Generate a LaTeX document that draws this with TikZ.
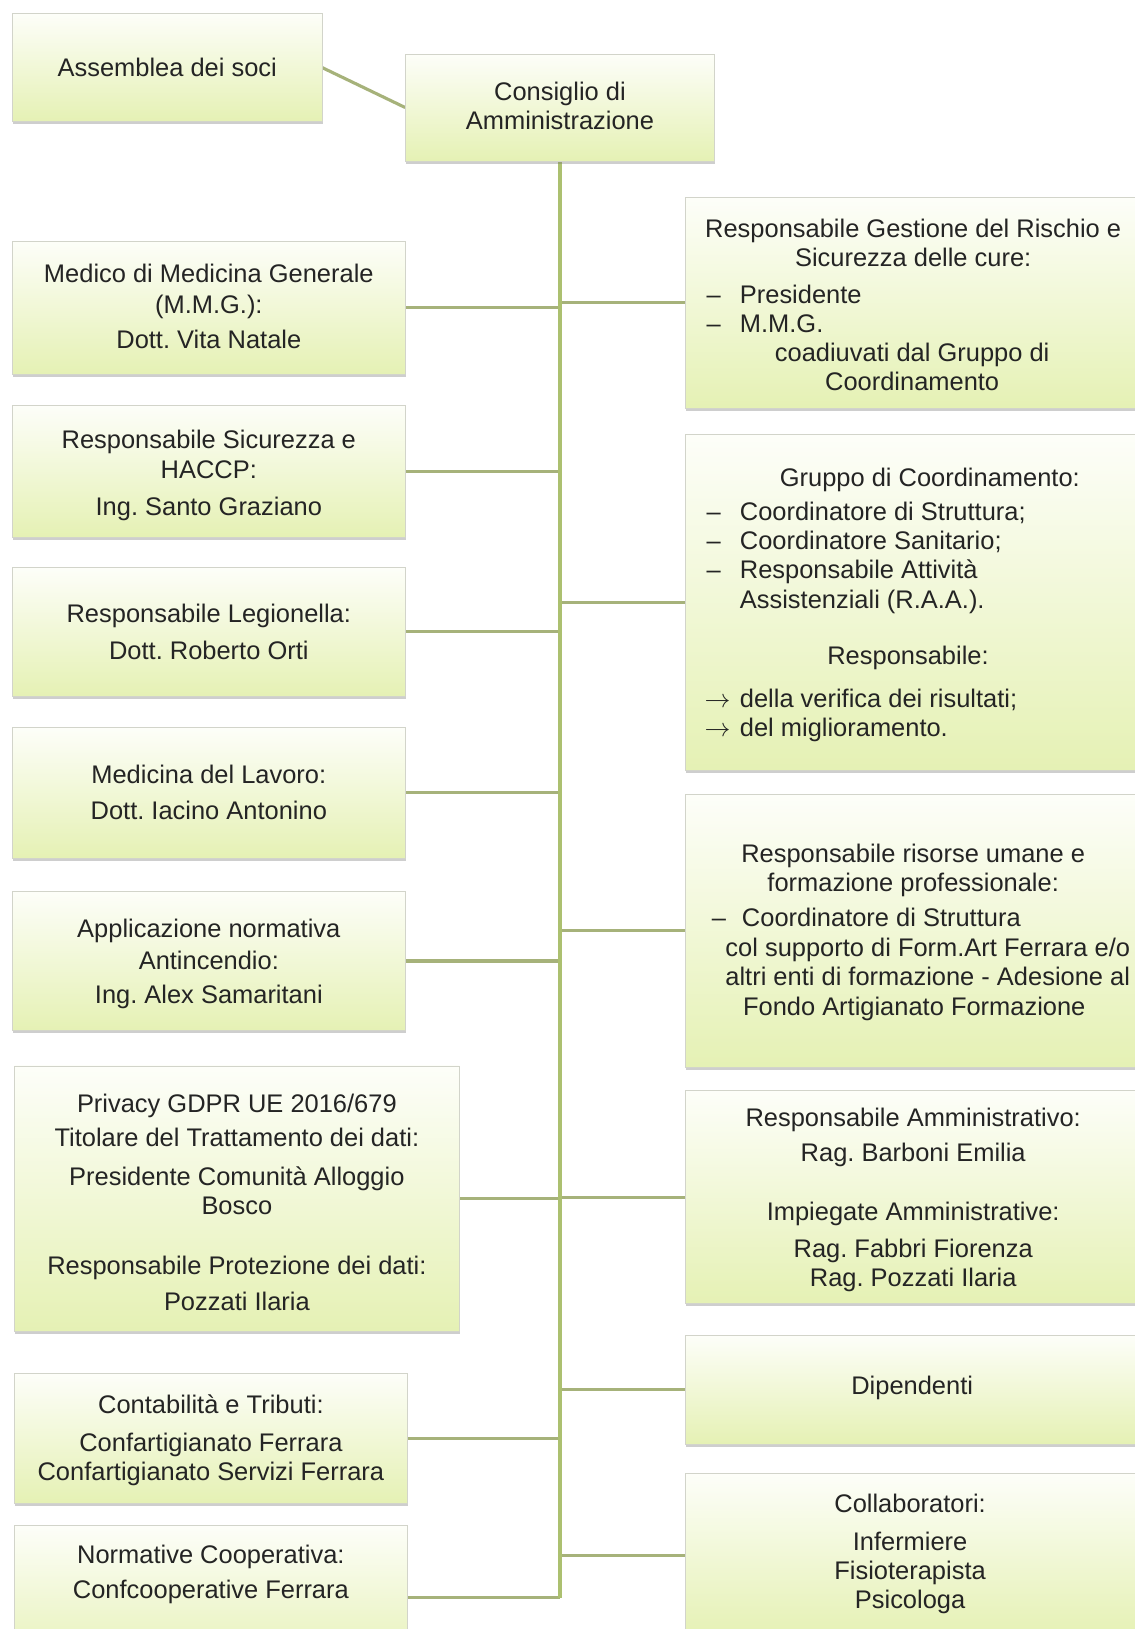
\documentclass[tikz,border=0pt]{standalone}
\usepackage{fontspec}
\setmainfont{Liberation Sans}
\usetikzlibrary{shadows,backgrounds}
\definecolor{trunkcol}{RGB}{172,192,112}
\definecolor{conncol}{RGB}{166,178,122}
\definecolor{btop}{RGB}{253,254,249}
\definecolor{bbot}{RGB}{229,241,180}
\definecolor{bdraw}{RGB}{210,212,202}
\definecolor{txtcol}{RGB}{36,36,36}
\frenchspacing
\begin{document}
\begin{tikzpicture}[x=1pt,y=-1pt,
  box/.style={anchor=north west, inner sep=0pt, outer sep=0pt, draw=bdraw, line width=0.8pt,
    top color=btop, middle color=btop!60!bbot, bottom color=bbot,
    drop shadow={shadow xshift=0.6pt, shadow yshift=-2.5pt, opacity=0.35, fill=black!55}},
  conn/.style={draw=conncol, line width=3pt},
  trunk/.style={draw=trunkcol, line width=3.5pt},
  tc/.style={anchor=base, inner sep=0pt, text=txtcol, font=\fontsize{24.5}{28}\selectfont},
  tl/.style={tc, anchor=base west}]
\useasboundingbox (0,0) rectangle (1092,1568);
% boxes
\node[box, minimum width=298pt, minimum height=104pt] (asm) at (12,13) {};
\node[box, minimum width=298pt, minimum height=103pt] (cda) at (390,52) {};
\node[box, minimum width=378pt, minimum height=128pt] (med) at (12,232) {};
\node[box, minimum width=378pt, minimum height=127pt] (sic) at (12,390) {};
\node[box, minimum width=378pt, minimum height=124pt] (leg) at (12,546) {};
\node[box, minimum width=378pt, minimum height=126pt] (lav) at (12,700) {};
\node[box, minimum width=378pt, minimum height=134pt] (ant) at (12,858) {};
\node[box, minimum width=428pt, minimum height=256pt] (pri) at (14,1026) {};
\node[box, minimum width=378pt, minimum height=125pt] (con) at (14,1322) {};
\node[box, minimum width=378pt, minimum height=140pt] (nor) at (14,1468) {};
\node[box, minimum width=440pt, minimum height=203pt] (ges) at (660,190) {};
\node[box, minimum width=440pt, minimum height=324pt] (gru) at (660,418) {};
\node[box, minimum width=440pt, minimum height=262pt] (ris) at (660,765) {};
\node[box, minimum width=440pt, minimum height=205pt] (amm) at (660,1050) {};
\node[box, minimum width=440pt, minimum height=105pt] (dip) at (660,1285) {};
\node[box, minimum width=440pt, minimum height=158pt] (col) at (660,1418) {};
% connectors
\begin{scope}[on background layer]
\fill[white] (0,0) rectangle (1092,1568);
\draw[conn] (asm.east) -- (cda.west);
\foreach \n in {med,sic,leg,lav,ant,pri,con,nor,ges,gru,ris,amm,dip,col}
  \draw[conn] (\n.center) -- (\n.center -| cda.south);
\draw[trunk] (cda.south) -- (cda.south |- nor.east);
\end{scope}
% texts
\node[tc] (t01) at (161,74) {Assemblea dei soci};
\node[tc] (t02) at (539,97) {Consiglio di};
\node[tc] (t03) at (539,125) {Amministrazione};
\node[tc] (t04) at (201,272) {Medico di Medicina Generale};
\node[tc] (t05) at (201,302) {(M.M.G.):};
\node[tc] (t06) at (201,335) {Dott. Vita Natale};
\node[tc] (t07) at (201,432) {Responsabile Sicurezza e};
\node[tc] (t08) at (201,461) {HACCP:};
\node[tc] (t09) at (201,496) {Ing. Santo Graziano};
\node[tc] (t10) at (201,599) {Responsabile Legionella:};
\node[tc] (t11) at (201,635) {Dott. Roberto Orti};
\node[tc] (t12) at (201,754) {Medicina del Lavoro:};
\node[tc] (t13) at (201,789) {Dott. Iacino Antonino};
\node[tc] (t14) at (201,902) {Applicazione normativa};
\node[tc] (t15) at (201,933) {Antincendio:};
\node[tc] (t16) at (201,966) {Ing. Alex Samaritani};
\node[tc] (t17) at (228,1071) {Privacy GDPR UE 2016/679};
\node[tc] (t18) at (228,1104) {Titolare del Trattamento dei dati:};
\node[tc] (t19) at (228,1141) {Presidente Comunità Alloggio};
\node[tc] (t20) at (228,1169) {Bosco};
\node[tc] (t21) at (228,1227) {Responsabile Protezione dei dati:};
\node[tc] (t22) at (228,1261) {Pozzati Ilaria};
\node[tc] (t23) at (203,1361) {Contabilità e Tributi:};
\node[tc] (t24) at (203,1397) {Confartigianato Ferrara};
\node[tc] (t25) at (203,1425) {Confartigianato Servizi Ferrara};
\node[tc] (t26) at (203,1505) {Normative Cooperativa:};
\node[tc] (t27) at (203,1539) {Confcooperative Ferrara};
% right texts
\node[tc] (r01) at (879,229) {Responsabile Gestione del Rischio e};
\node[tc] (r02) at (879,257) {Sicurezza delle cure:};
\node[tl] (r03) at (680,292) {–};
\node[tl] (r04) at (712,292) {Presidente};
\node[tl] (r05) at (680,320) {–};
\node[tl] (r06) at (712,320) {M.M.G.};
\node[tc] (r07) at (878,348) {coadiuvati dal Gruppo di};
\node[tc] (r08) at (878,376) {Coordinamento};
\node[tc] (r09) at (895,468) {Gruppo di Coordinamento:};
\node[tl] (r10) at (680,501) {–};
\node[tl] (r11) at (712,501) {Coordinatore di Struttura;};
\node[tl] (r12) at (680,529) {–};
\node[tl] (r13) at (712,529) {Coordinatore Sanitario;};
\node[tl] (r14) at (680,557) {–};
\node[tl] (r15) at (712,557) {Responsabile Attività};
\node[tl] (r16) at (712,586) {Assistenziali (R.A.A.).};
\node[tc] (r17) at (874,640) {Responsabile:};
\node[tl] (r18) at (678,681) {$\rightarrow$};
\node[tl] (r19) at (712,681) {della verifica dei risultati;};
\node[tl] (r20) at (678,709) {$\rightarrow$};
\node[tl] (r21) at (712,709) {del miglioramento.};
\node[tc] (r22) at (879,830) {Responsabile risorse umane e};
\node[tc] (r23) at (879,858) {formazione professionale:};
\node[tl] (r24) at (685,892) {–};
\node[tl] (r25) at (714,892) {Coordinatore di Struttura};
\node[tc] (r26) at (893,921) {col supporto di Form.Art Ferrara e/o};
\node[tc] (r27) at (893,949) {altri enti di formazione - Adesione al};
\node[tc] (r28) at (880,977) {Fondo Artigianato Formazione};
\node[tc] (r29) at (879,1084) {Responsabile Amministrativo:};
\node[tc] (r30) at (879,1118) {Rag. Barboni Emilia};
\node[tc] (r31) at (879,1175) {Impiegate Amministrative:};
\node[tc] (r32) at (879,1210) {Rag. Fabbri Fiorenza};
\node[tc] (r33) at (879,1238) {Rag. Pozzati Ilaria};
\node[tc] (r34) at (878,1342) {Dipendenti};
\node[tc] (r35) at (876,1456) {Collaboratori:};
\node[tc] (r36) at (876,1492) {Infermiere};
\node[tc] (r37) at (876,1520) {Fisioterapista};
\node[tc] (r38) at (876,1548) {Psicologa};
\end{tikzpicture}
\end{document}
